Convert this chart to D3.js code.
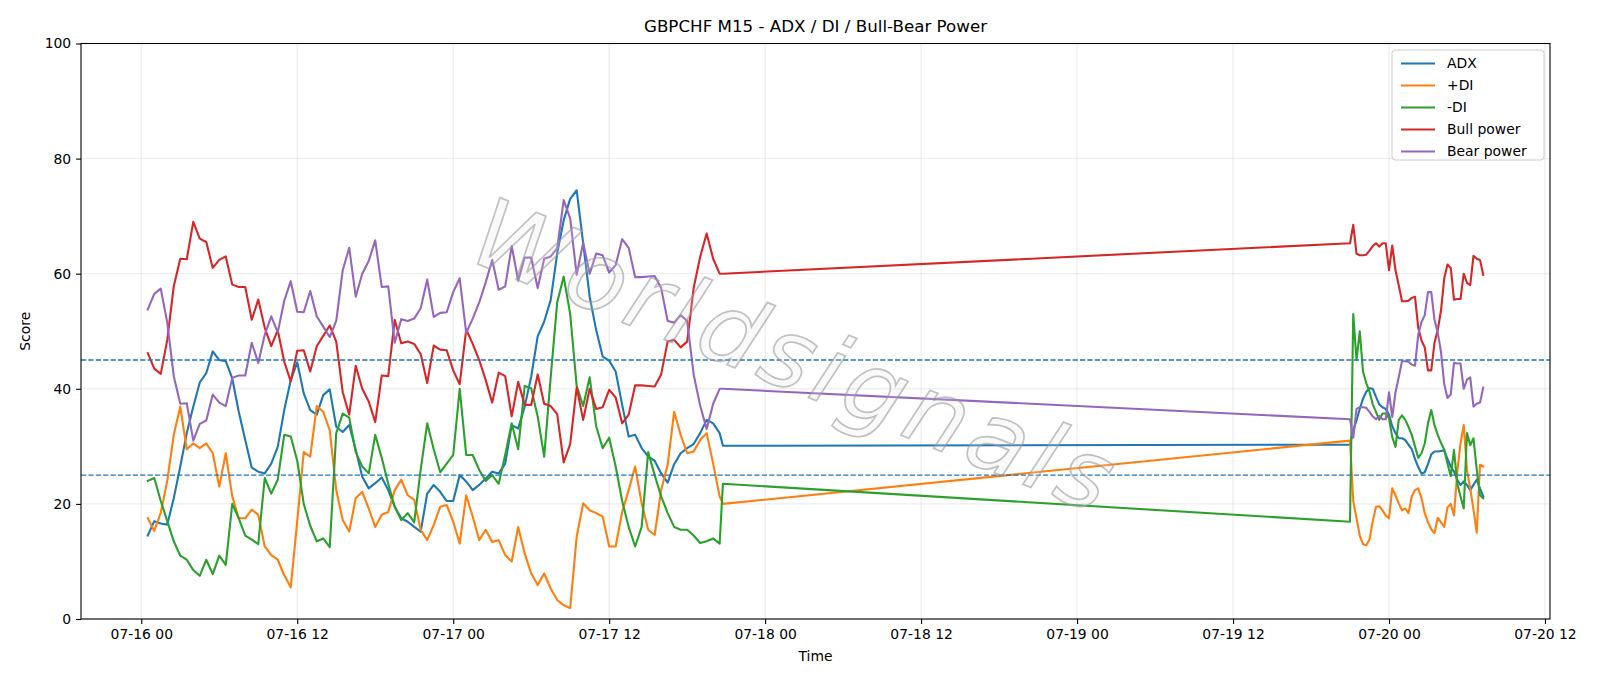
<!DOCTYPE html>
<html>
<head>
<meta charset="utf-8">
<script src="https://cdn.jsdelivr.net/npm/d3@7/dist/d3.min.js"></script>
<style>
  body { margin: 0; background: #fff; }
  svg { display: block; font-family: "DejaVu Sans", sans-serif; }
</style>
</head>
<body>
<svg id="chart" width="1600" height="686"></svg>
<script>
// --- data ---
// segment 1: 07-16 00:30 -> 07-17 20:30 every 30 min, plus 20:45
// segment 2: 07-19 21:00 -> 07-20 07:15 every 15 min
var seg1Start = "2026-07-16T00:30",
    seg1Last = "2026-07-17T20:45",
    seg2Start = "2026-07-19T21:00";

var adx1 = [14.5,17.0,16.6,16.4,21.0,26.5,32.3,36.9,41.1,42.7,46.5,45.0,44.8,41.8,36.0,31.1,26.3,25.6,25.3,27.0,29.9,36.3,41.5,44.6,39.2,
  36.3,35.5,38.9,39.9,33.4,32.5,33.7,29.4,24.7,22.7,23.6,24.6,22.4,19.5,17.5,16.9,16.0,15.2,21.8,23.3,22.1,20.5,20.5,25.0,
  23.9,22.4,23.3,24.4,25.6,25.3,27.0,33.7,33.1,36.9,42.1,49.1,51.7,55.4,63.5,69.3,73.0,74.5,65.3,56.0,50.2,45.6,44.9,43.0,
  37.2,31.7,32.0,29.7,28.2,27.5,25.3,23.7,26.9,28.8,29.7,30.4,32.3,34.6,34.0,32.3,30.1];
var pdi1 = [17.5,15.3,18.5,24.0,32.0,36.9,29.5,30.5,29.7,30.5,28.8,23.0,28.8,21.3,17.5,17.5,19.0,18.1,12.6,11.1,10.3,7.6,5.5,17.0,29.0,
  28.2,37.0,36.0,32.8,22.4,17.2,15.2,21.0,22.1,19.2,16.0,18.1,18.6,22.4,24.2,21.5,20.7,15.5,13.7,16.3,19.5,19.8,16.9,13.1,
  21.5,17.8,13.7,15.5,13.4,13.7,11.1,10.0,16.0,11.4,7.9,5.9,7.9,5.3,3.3,2.4,1.9,14.3,20.1,18.9,18.4,17.8,12.6,12.6,
  18.6,22.4,26.5,20.1,15.5,14.6,22.4,26.8,36.0,32.0,28.8,29.1,31.1,32.3,27.0,21.3,20.0];
var mdi1 = [24.0,24.5,20.5,17.0,13.5,11.0,10.3,8.5,7.5,10.3,7.8,11.0,9.4,20.0,17.5,14.5,13.8,13.0,24.5,21.8,24.2,32.0,31.7,27.5,20.0,
  16.2,13.5,14.0,12.5,32.3,35.7,35.0,29.0,26.5,25.3,32.0,28.0,23.5,19.5,17.2,18.4,16.8,26.0,34.0,29.5,25.5,27.0,28.5,40.0,
  28.5,28.5,25.9,24.0,25.0,23.5,28.5,34.0,29.5,40.5,40.1,35.2,28.2,42.0,55.0,59.5,53.0,40.5,37.0,42.0,33.5,29.7,31.5,26.5,
  20.5,16.0,12.6,16.0,29.0,25.0,21.3,18.4,16.0,15.5,15.5,14.5,13.2,13.5,14.0,13.1,23.5];
var bull1 = [46.2,43.5,42.6,48.5,57.8,62.6,62.5,69.0,66.1,65.5,61.0,62.4,63.0,58.1,57.7,57.7,52.0,55.5,50.6,47.4,50.2,44.7,41.3,46.6,46.7,
  43.0,47.4,49.2,51.0,48.2,39.4,35.5,44.0,40.0,37.8,34.2,42.3,42.2,52.0,47.9,48.2,47.8,46.0,41.0,47.5,46.8,46.7,43.2,40.8,
  50.3,47.8,45.0,41.5,37.6,42.8,42.2,35.2,41.2,37.2,37.2,42.5,37.4,37.0,35.6,27.2,30.4,40.2,34.6,40.0,36.5,36.8,39.8,38.5,
  34.0,35.5,40.6,40.6,40.5,40.4,42.5,48.2,48.5,47.2,48.2,57.5,62.9,67.0,62.6,60.0,60.0];
var bear1 = [53.8,56.5,57.4,51.5,42.2,37.4,37.5,31.0,33.9,34.5,39.0,37.6,37.0,41.9,42.3,42.3,48.0,44.5,49.4,52.6,49.8,55.3,58.7,53.4,53.3,
  57.0,52.6,50.8,49.0,51.8,60.6,64.5,56.0,60.0,62.2,65.8,57.7,57.8,48.0,52.1,51.8,52.2,54.0,59.0,52.5,53.2,53.3,56.8,59.2,
  49.7,52.2,55.0,58.5,62.4,57.2,57.8,64.8,58.8,62.8,62.8,57.5,62.6,63.0,64.4,72.8,69.6,59.8,65.4,60.0,63.5,63.2,60.2,61.5,
  66.0,64.5,59.4,59.4,59.5,59.6,57.5,51.8,51.5,52.8,51.8,42.5,37.1,33.0,37.4,40.0,40.0];

var adx2 = [30.3,32.8,34.5,36.5,38.3,39.5,40.1,40.0,38.6,37.3,36.8,36.5,35.5,33.5,32.3,31.4,31.4,31.1,30.3,29.5,27.8,
  26.4,25.3,25.5,26.9,28.6,29.1,29.1,29.2,29.3,27.8,26.5,25.6,24.2,23.3,23.9,23.3,22.4,23.3,24.2,22.7,21.3];
var pdi2 = [31.0,20.5,17.5,14.5,13.0,12.8,13.8,17.0,19.5,19.6,18.9,18.0,17.5,22.7,21.5,20.1,18.9,19.2,18.4,21.3,22.4,
  22.7,21.0,18.4,16.8,15.6,14.9,17.6,16.8,16.0,19.4,20.0,18.0,25.5,30.5,33.7,25.9,22.7,19.0,15.0,26.8,26.5];
var mdi2 = [16.9,53.0,45.0,50.0,43.0,41.0,39.5,37.3,36.0,34.6,35.7,35.7,34.9,31.6,29.9,34.6,35.4,34.6,33.4,32.0,30.0,
  28.0,28.8,30.5,34.0,36.3,33.7,32.0,30.6,29.4,27.0,24.8,29.4,23.6,21.3,19.2,32.3,30.2,31.4,26.0,21.5,21.0];
var bull2 = [65.3,68.5,63.5,63.2,63.2,63.3,64.0,64.8,65.3,64.7,65.3,65.3,60.6,64.9,60.6,58.0,55.2,55.2,55.3,55.8,56.0,
  50.6,48.4,47.2,43.2,43.2,48.0,50.2,53.6,59.2,61.6,61.0,55.5,55.6,55.6,60.0,58.4,58.0,63.1,62.6,62.4,59.8];
var bear2 = [34.7,31.5,36.5,36.8,36.8,36.7,36.0,35.2,34.7,35.3,34.7,34.7,39.4,35.1,39.4,42.0,44.8,44.8,44.7,44.2,44.0,
  49.4,51.6,52.8,56.8,56.8,52.0,49.8,46.4,40.8,38.4,39.0,44.5,44.4,44.4,40.0,41.6,42.0,36.9,37.4,37.6,40.2];

var seriesNames = ["ADX", "+DI", "-DI", "Bull power", "Bear power"];
var seriesColors = ["#1f77b4", "#ff7f0e", "#2ca02c", "#d62728", "#9467bd"];
var levels = [45, 25];
var yTicks = [0, 20, 40, 60, 80, 100];

// --- times ---
var parse = d3.utcParse("%Y-%m-%dT%H:%M");
var t1 = parse(seg1Start), t2 = parse(seg2Start);
var times = d3.range(89).map(function(i) { return d3.utcMinute.offset(t1, i * 30); })
  .concat([parse(seg1Last)])
  .concat(d3.range(42).map(function(i) { return d3.utcMinute.offset(t2, i * 15); }));

var values = [adx1.concat(adx2), pdi1.concat(pdi2), mdi1.concat(mdi2), bull1.concat(bull2), bear1.concat(bear2)];

// --- layout ---
var svg = d3.select("#chart");
var plotL = 81, plotR = 1550, plotT = 43.5, plotB = 619;

var tMin = times[0], tMax = times[times.length - 1],
    pad = (tMax - tMin) * 0.05;
var x = d3.scaleUtc()
  .domain([new Date(+tMin - pad), new Date(+tMax + pad)])
  .range([plotL, plotR]);
var y = d3.scaleLinear().domain([0, 100]).range([plotB, plotT]);

var xTicks = d3.utcHour.every(12).range(x.domain()[0], x.domain()[1]);

// grid
var grid = svg.append("g").attr("stroke", "#b0b0b0").attr("stroke-opacity", 0.35).attr("stroke-width", 0.8);
grid.selectAll("line.gx").data(xTicks).enter().append("line")
  .attr("x1", function(d) { return x(d); }).attr("x2", function(d) { return x(d); })
  .attr("y1", plotT).attr("y2", plotB);
grid.selectAll("line.gy").data(yTicks).enter().append("line")
  .attr("x1", plotL).attr("x2", plotR)
  .attr("y1", function(d) { return y(d); }).attr("y2", function(d) { return y(d); });

// series
var line = d3.line()
  .x(function(d, i) { return x(times[i]); })
  .y(function(d) { return y(d); });

svg.append("g").selectAll("path").data(values).enter().append("path")
  .attr("d", line)
  .attr("fill", "none")
  .attr("stroke", function(d, i) { return seriesColors[i]; })
  .attr("stroke-width", 2.1)
  .attr("stroke-linejoin", "round")
  .attr("stroke-linecap", "square");

// threshold lines
svg.append("g").selectAll("line").data(levels).enter().append("line")
  .attr("x1", plotL).attr("x2", plotR)
  .attr("y1", function(d) { return y(d); }).attr("y2", function(d) { return y(d); })
  .attr("stroke", "#1f77b4").attr("stroke-width", 1.4)
  .attr("stroke-dasharray", "5.2,2.2");

// watermark
svg.append("text")
  .attr("transform", "translate(796,357) rotate(22)")
  .attr("text-anchor", "middle")
  .attr("dominant-baseline", "central")
  .style("font-size", "96px")
  .style("font-style", "italic")
  .style("letter-spacing", "6px")
  .attr("fill", "#e0e0e0")
  .attr("fill-opacity", 0.2)
  .attr("stroke", "#999")
  .attr("stroke-width", 1.7)
  .attr("stroke-opacity", 0.6)
  .text("Worldsignals");

// axes
var xAxis = svg.append("g")
  .attr("transform", "translate(0," + plotB + ")")
  .call(d3.axisBottom(x).tickValues(xTicks).tickFormat(d3.utcFormat("%m-%d %H")).tickSize(4.9).tickPadding(4.9));
var yAxis = svg.append("g")
  .attr("transform", "translate(" + plotL + ",0)")
  .call(d3.axisLeft(y).tickValues(yTicks).tickSize(4.9).tickPadding(4.9));

[xAxis, yAxis].forEach(function(a) {
  a.select(".domain").remove();
  a.selectAll(".tick line").attr("stroke", "#000").attr("stroke-width", 1.1);
  a.selectAll(".tick text").attr("fill", "#000").style("font-size", "13.9px").style("font-family", "DejaVu Sans");
});

// frame
svg.append("rect")
  .attr("x", plotL).attr("y", plotT)
  .attr("width", plotR - plotL).attr("height", plotB - plotT)
  .attr("fill", "none").attr("stroke", "#000").attr("stroke-width", 1.1);

// labels
svg.append("text")
  .attr("x", (plotL + plotR) / 2).attr("y", 31.5)
  .attr("text-anchor", "middle")
  .style("font-size", "16.7px")
  .text("GBPCHF M15 - ADX / DI / Bull-Bear Power");
svg.append("text")
  .attr("x", (plotL + plotR) / 2).attr("y", 661)
  .attr("text-anchor", "middle")
  .style("font-size", "13.9px")
  .text("Time");
svg.append("text")
  .attr("transform", "translate(30," + ((plotT + plotB) / 2) + ") rotate(-90)")
  .attr("text-anchor", "middle")
  .style("font-size", "13.9px")
  .text("Score");

// legend
var lg = svg.append("g").attr("transform", "translate(1392,50)");
lg.append("rect")
  .attr("width", 152).attr("height", 110).attr("rx", 3)
  .attr("fill", "#fff").attr("fill-opacity", 0.8)
  .attr("stroke", "#cccccc").attr("stroke-width", 1);
var items = lg.selectAll("g.item").data(seriesNames).enter().append("g")
  .attr("transform", function(d, i) { return "translate(0," + (13.5 + i * 22) + ")"; });
items.append("line")
  .attr("x1", 9).attr("x2", 43)
  .attr("stroke", function(d, i) { return seriesColors[i]; })
  .attr("stroke-width", 2.1);
items.append("text")
  .attr("x", 55).attr("dy", "0.35em")
  .style("font-size", "13.9px")
  .text(function(d) { return d; });
</script>
</body>
</html>
